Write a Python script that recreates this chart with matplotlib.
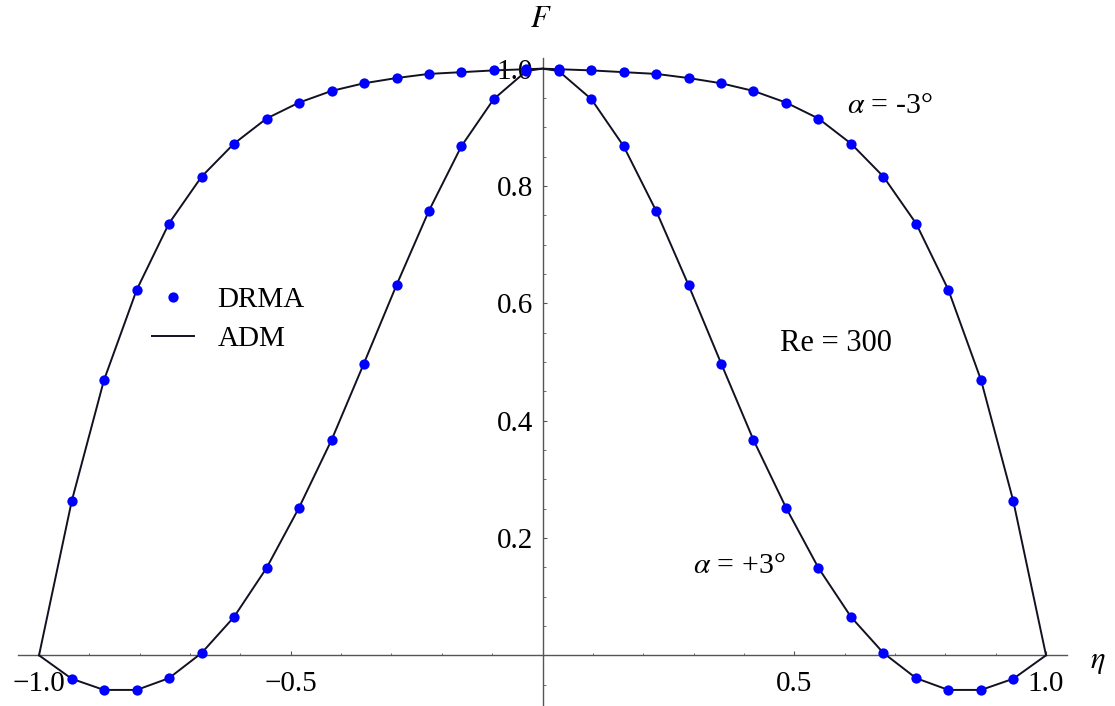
import numpy as np
import matplotlib
matplotlib.use("Agg")
import matplotlib.pyplot as plt
from matplotlib.ticker import FixedLocator
from matplotlib.lines import Line2D

plt.rcParams['font.family'] = 'Liberation Serif'
plt.rcParams['mathtext.fontset'] = 'stix'

# half profile (eta > 0), the flow is symmetric about eta = 0
eta_half = [0.032, 0.097, 0.161, 0.226, 0.290, 0.355, 0.419, 0.484,
            0.548, 0.613, 0.677, 0.742, 0.806, 0.871, 0.935]
# alpha = -3 deg, Re = 300
f_minus3 = [0.999, 0.997, 0.994, 0.991, 0.984, 0.975, 0.962, 0.942,
            0.915, 0.872, 0.816, 0.736, 0.623, 0.469, 0.263]
# alpha = +3 deg, Re = 300
f_plus3 = [0.996, 0.948, 0.868, 0.757, 0.631, 0.497, 0.367, 0.251,
           0.149, 0.065, 0.004, -0.039, -0.059, -0.059, -0.040]

# wall and centreline values
eta_wall = 1.0
f_wall = 0.0
f_centre = 1.0


def full(eta, f):
    eta = np.asarray(eta)
    f = np.asarray(f)
    return np.concatenate([-eta[::-1], eta]), np.concatenate([f[::-1], f])


def closed(eta, f):
    x, y = full(eta, f)
    n = len(eta)
    x = np.concatenate([[-eta_wall], x[:n], [0.0], x[n:], [eta_wall]])
    y = np.concatenate([[f_wall], y[:n], [f_centre], y[n:], [f_wall]])
    return x, y


fig = plt.figure(figsize=(11.15, 7.06), dpi=100)
ax = fig.add_axes([0, 0, 1, 1])
ax.set_xlim(-1.0775, 1.137)
ax.set_ylim(-0.0864, 1.117)

# ADM solution lines
for f in (f_minus3, f_plus3):
    x, y = closed(eta_half, f)
    ax.plot(x, y, color='#111122', lw=1.4, zorder=3)

# DRMA points
for f in (f_minus3, f_plus3):
    x, y = full(eta_half, f)
    ax.plot(x, y, 'o', color='#0000ff', ms=7.4, mec='none', zorder=4)

# axes through the origin
for s in ('top', 'right'):
    ax.spines[s].set_visible(False)
ax.spines['left'].set_position(('data', 0))
ax.spines['bottom'].set_position(('data', 0))
ax.spines['bottom'].set_bounds(-1.042, 1.042)
ax.spines['left'].set_bounds(-0.09, 1.018)
for s in ('left', 'bottom'):
    ax.spines[s].set_color('#555555')
    ax.spines[s].set_linewidth(1.0)

ax.set_xticks([-1.0, -0.5, 0.5, 1.0])
ax.set_xticklabels(['\u22121.0', '\u22120.5', '0.5', '1.0'])
ax.set_yticks([0.2, 0.4, 0.6, 0.8, 1.0])
ax.set_yticklabels(['0.2', '0.4', '0.6', '0.8', '1.0'])
ax.xaxis.set_minor_locator(FixedLocator(np.arange(-10, 11) / 10))
ax.yaxis.set_minor_locator(FixedLocator(np.arange(-1, 21) / 20))
ax.tick_params(which='both', direction='in', color='#555555', labelsize=21)
ax.tick_params(which='major', length=3, width=0.8)
ax.tick_params(which='minor', length=1.8, width=0.6)
ax.tick_params(axis='x', pad=11)
ax.tick_params(axis='y', pad=7)

ax.text(-0.003, 1.083, '$F$', fontsize=22, ha='center', va='center')
ax.text(1.1025, -0.011, '$\\eta$', fontsize=22, ha='center', va='center')

ax.text(0.605, 0.936, '$\\alpha$ = -3\u00b0', fontsize=21.5, ha='left', va='center')
ax.text(0.299, 0.152, '$\\alpha$ = +3\u00b0', fontsize=21.5, ha='left', va='center')
ax.text(0.472, 0.531, 'Re = 300', fontsize=22, ha='left', va='center')

handles = [Line2D([], [], ls='none', marker='o', color='#0000ff', ms=7.4, mec='none'),
           Line2D([], [], color='#111122', lw=1.4)]
ax.legend(handles, ['DRMA', 'ADM'], loc='upper left',
          bbox_to_anchor=(152 / 1115, 1 - 287 / 706), frameon=False,
          fontsize=21, borderpad=0, borderaxespad=0, handlelength=1.45,
          handletextpad=0.8, labelspacing=0.42)

fig.savefig('out.png', dpi=100)
